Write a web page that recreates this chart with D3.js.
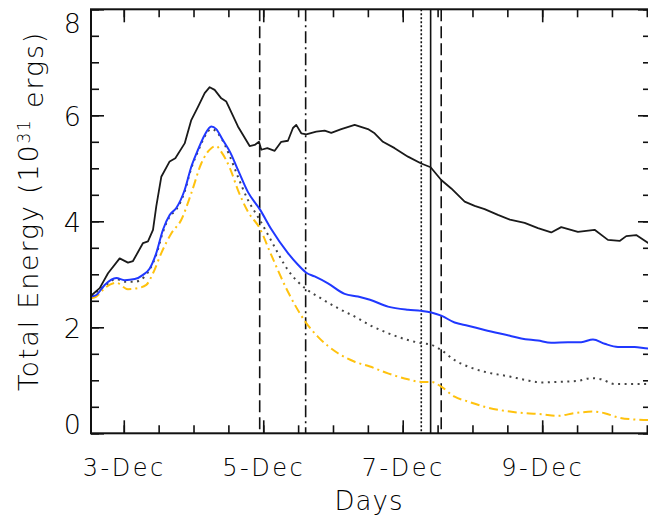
<!DOCTYPE html>
<html>
<head>
<meta charset="utf-8">
<script src="https://cdn.jsdelivr.net/npm/d3@7"></script>
<style>
  html, body { margin: 0; padding: 0; background: #fff; }
  svg { display: block; }
  text { font-family: "DejaVu Sans", sans-serif; font-weight: 200; fill: #000; }
</style>
</head>
<body>
<svg id="chart" width="648" height="520"></svg>
<script>
// Energy curves: [day of December, energy in 10^31 ergs]
const solidBlack = [
  [2.534,2.60],[2.655,2.74],[2.774,3.02],[2.941,3.30],[3.060,3.22],[3.132,3.25],[3.276,3.59],[3.347,3.62],
  [3.419,3.84],[3.466,4.28],[3.538,4.84],[3.658,5.13],[3.739,5.19],[3.873,5.47],[3.968,5.91],[4.064,6.16],
  [4.160,6.42],[4.232,6.53],[4.303,6.48],[4.398,6.32],[4.470,6.26],[4.494,6.19],[4.637,5.79],[4.805,5.42],
  [4.877,5.44],[4.939,5.50],[4.972,5.35],[5.058,5.38],[5.164,5.33],[5.258,5.50],[5.354,5.52],[5.426,5.76],
  [5.473,5.82],[5.545,5.66],[5.617,5.64],[5.760,5.69],[5.881,5.71],[5.975,5.67],[6.119,5.74],[6.311,5.82],
  [6.501,5.74],[6.597,5.66],[6.716,5.50],[6.884,5.38],[7.075,5.22],[7.265,5.09],[7.400,5.02],[7.552,4.78],
  [7.696,4.62],[7.888,4.37],[8.031,4.29],[8.174,4.23],[8.365,4.12],[8.537,4.03],[8.748,3.97],[8.939,3.87],
  [9.129,3.79],[9.273,3.89],[9.512,3.80],[9.751,3.84],[9.942,3.65],[10.110,3.63],[10.205,3.72],[10.348,3.74],
  [10.520,3.59],[10.56,3.55]
];
const solidBlue = [
  [2.534,2.58],[2.606,2.61],[2.726,2.80],[2.893,2.93],[3.013,2.89],[3.157,2.91],[3.276,2.99],[3.372,3.11],
  [3.466,3.40],[3.562,3.84],[3.658,4.12],[3.753,4.25],[3.873,4.59],[3.968,5.03],[4.064,5.35],[4.160,5.63],
  [4.255,5.79],[4.326,5.74],[4.422,5.53],[4.523,5.31],[4.637,4.97],[4.781,4.55],[4.949,4.23],[5.116,3.85],
  [5.354,3.40],[5.498,3.18],[5.617,3.03],[5.737,2.96],[5.928,2.83],[6.167,2.63],[6.358,2.58],[6.530,2.52],
  [6.788,2.39],[7.075,2.33],[7.265,2.31],[7.409,2.28],[7.552,2.22],[7.744,2.09],[7.935,2.03],[8.174,1.95],
  [8.537,1.84],[8.699,1.79],[8.939,1.75],[9.129,1.71],[9.369,1.72],[9.560,1.72],[9.728,1.77],[9.895,1.69],
  [10.086,1.63],[10.325,1.63],[10.520,1.60],[10.56,1.60]
];
const dottedGray = [
  [2.534,2.58],[2.726,2.78],[2.893,2.91],[3.013,2.86],[3.157,2.86],[3.300,2.96],[3.372,3.09],[3.466,3.37],
  [3.562,3.80],[3.658,4.09],[3.753,4.22],[3.873,4.56],[3.968,5.00],[4.064,5.32],[4.160,5.60],[4.255,5.74],
  [4.398,5.57],[4.523,5.22],[4.637,4.84],[4.781,4.40],[4.949,4.03],[5.116,3.63],[5.354,3.08],[5.617,2.72],
  [5.785,2.58],[6.072,2.36],[6.358,2.17],[6.530,2.04],[6.788,1.89],[7.075,1.76],[7.265,1.70],[7.409,1.67],
  [7.552,1.57],[7.744,1.38],[7.935,1.26],[8.174,1.16],[8.537,1.07],[8.748,1.01],[8.986,0.96],[9.225,0.97],
  [9.512,0.99],[9.703,1.04],[9.846,1.02],[10.038,0.93],[10.325,0.93],[10.56,0.93]
];
const dashDotGold = [
  [2.534,2.55],[2.606,2.58],[2.726,2.74],[2.893,2.84],[3.060,2.72],[3.204,2.74],[3.323,2.80],[3.419,3.02],
  [3.538,3.40],[3.681,3.77],[3.825,4.03],[3.968,4.53],[4.111,5.09],[4.255,5.38],[4.326,5.42],[4.398,5.31],
  [4.523,5.00],[4.637,4.59],[4.781,4.18],[4.949,3.87],[5.116,3.36],[5.354,2.67],[5.617,2.08],[5.785,1.82],
  [6.072,1.51],[6.311,1.35],[6.530,1.26],[6.788,1.13],[7.075,1.02],[7.265,0.97],[7.409,0.97],[7.552,0.88],
  [7.744,0.69],[7.935,0.60],[8.174,0.50],[8.537,0.41],[8.748,0.38],[8.986,0.36],[9.225,0.33],[9.465,0.38],
  [9.728,0.41],[9.895,0.38],[10.086,0.30],[10.325,0.26],[10.520,0.25],[10.56,0.25]
];

// Event times (day of December) marked by vertical lines
const eventDays = [4.949, 5.608, 7.266, 7.400, 7.552];
const eventDash = ["12 5", "12 4 2 4", "2 2", null, "12 5"];

const xDomainDays = [2.53, 10.56];
const yTicksMajor = [0, 2, 4, 6, 8];
const yAxisTitle = ["Total Energy (10", "31", " ergs)"];
const xAxisTitle = "Days";

// ---- drawing ----
const DAY0 = Date.UTC(2006, 11, 1);
const toDate = d => new Date(DAY0 + (d - 1) * 864e5);

const svg = d3.select("#chart");
const L = 91, R = 651, T = 9.3, B = 433.3;

const x = d3.scaleUtc().domain(xDomainDays.map(toDate)).range([L, R]);
const y = d3.scaleLinear().domain([0, 8]).range([B, T]);

svg.append("defs").append("clipPath").attr("id", "plotClip")
  .append("rect").attr("x", L).attr("y", T).attr("width", R - L).attr("height", B - T);

const plot = svg.append("g").attr("clip-path", "url(#plotClip)");

// vertical event markers
plot.selectAll("line.event").data(eventDays).join("line")
  .attr("class", "event")
  .attr("x1", d => x(toDate(d))).attr("x2", d => x(toDate(d)))
  .attr("y1", T).attr("y2", B)
  .attr("stroke", "#111").attr("stroke-width", 1.6)
  .attr("stroke-dasharray", (d, i) => eventDash[i]);

const line = d3.line().x(d => x(toDate(d[0]))).y(d => y(d[1]));
const smooth = d3.line().x(d => x(toDate(d[0]))).y(d => y(d[1])).curve(d3.curveMonotoneX);

plot.append("path").datum(dashDotGold).attr("d", smooth)
  .attr("fill", "none").attr("stroke", "#ffc20e").attr("stroke-width", 2)
  .attr("stroke-dasharray", "9 4 2 4");
plot.append("path").datum(dottedGray).attr("d", smooth)
  .attr("fill", "none").attr("stroke", "#444").attr("stroke-width", 2)
  .attr("stroke-dasharray", "2 4.5");
plot.append("path").datum(solidBlue).attr("d", smooth)
  .attr("fill", "none").attr("stroke", "#2038ff").attr("stroke-width", 2);
plot.append("path").datum(solidBlack).attr("d", line)
  .attr("fill", "none").attr("stroke", "#1a1a1a").attr("stroke-width", 1.8)
  .attr("stroke-linejoin", "round");

// axes: inward ticks on all four sides
const minorX = x.ticks(d3.utcHour.every(12));
const majorX = x.ticks(d3.utcDay.every(2));
const minorY = d3.range(0, 8.01, 0.5);
const fmt = d3.utcFormat("%-d-%b");

function styleAxis(g) {
  g.select(".domain").remove();
  g.selectAll(".tick line").attr("stroke", "#111").attr("stroke-width", 1.6);
}

svg.append("g").attr("transform", `translate(0,${B})`)
  .call(d3.axisBottom(x).tickValues(minorX).tickSize(-8).tickFormat(""))
  .call(styleAxis);
const xAx = svg.append("g").attr("transform", `translate(0,${B})`)
  .call(d3.axisBottom(x).tickValues(majorX).tickSize(-13).tickFormat(fmt))
  .call(styleAxis);
xAx.selectAll("text").attr("y", 42.7).attr("dy", 0)
  .attr("font-size", 24).attr("letter-spacing", 2.5)
  .style("font-family", "DejaVu Sans").style("font-weight", 200).attr("fill", "#000");

svg.append("g").attr("transform", `translate(0,${T})`)
  .call(d3.axisTop(x).tickValues(minorX).tickSize(-8).tickFormat(""))
  .call(styleAxis);
svg.append("g").attr("transform", `translate(0,${T})`)
  .call(d3.axisTop(x).tickValues(majorX).tickSize(-13).tickFormat(""))
  .call(styleAxis);

svg.append("g").attr("transform", `translate(${L},0)`)
  .call(d3.axisLeft(y).tickValues(minorY).tickSize(-8).tickFormat(""))
  .call(styleAxis);
const yAx = svg.append("g").attr("transform", `translate(${L},0)`)
  .call(d3.axisLeft(y).tickValues(yTicksMajor).tickSize(-13).tickFormat(d3.format("d")))
  .call(styleAxis);
// keep end labels inside the frame's vertical extent
yAx.selectAll(".tick").each(function (d) {
  const py = y(d);
  const cy = Math.max(T + 13, Math.min(B - 10, py));
  d3.select(this).select("text")
    .attr("x", -10).attr("y", cy - py).attr("dy", "0.36em")
    .attr("font-size", 27).style("font-family", "DejaVu Sans")
    .style("font-weight", 200).attr("fill", "#000");
});

svg.append("g").attr("transform", `translate(${R},0)`)
  .call(d3.axisRight(y).tickValues(minorY).tickSize(-8).tickFormat(""))
  .call(styleAxis);
svg.append("g").attr("transform", `translate(${R},0)`)
  .call(d3.axisRight(y).tickValues(yTicksMajor).tickSize(-13).tickFormat(""))
  .call(styleAxis);

// frame
svg.append("rect").attr("x", L).attr("y", T).attr("width", R - L).attr("height", B - T)
  .attr("fill", "none").attr("stroke", "#111").attr("stroke-width", 2);

// axis titles
svg.append("text").attr("x", 369).attr("y", 510).attr("text-anchor", "middle")
  .attr("font-size", 26).attr("letter-spacing", 1).text(xAxisTitle);

const yt = svg.append("text").attr("transform", "translate(38,211) rotate(-90)")
  .attr("text-anchor", "middle").attr("font-size", 27).attr("letter-spacing", 1.8);
yt.append("tspan").text(yAxisTitle[0]);
yt.append("tspan").attr("dy", "-0.45em").attr("font-size", 17).text(yAxisTitle[1]);
yt.append("tspan").attr("dy", "0.45em").text(yAxisTitle[2]);
</script>
</body>
</html>
